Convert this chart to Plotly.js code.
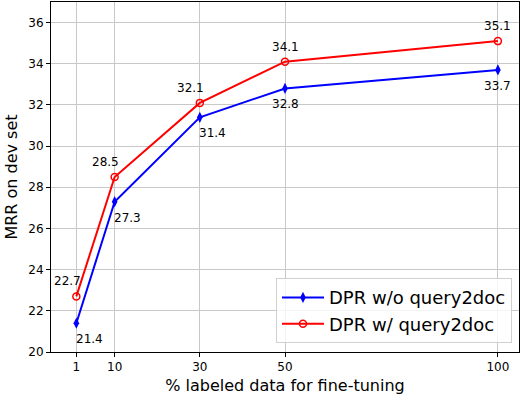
<!DOCTYPE html>
<html>
<head>
<meta charset="utf-8">
<script src="https://cdn.plot.ly/plotly-3.0.1.min.js"></script>
<style>
  html, body { margin: 0; padding: 0; background: #fff; }
  #myDiv { width: 522px; height: 396px; }
</style>
</head>
<body>
<div id="myDiv"></div>
<script>
var pct = [1, 10, 30, 50, 100];
var mrrBase = [21.4, 27.3, 31.4, 32.8, 33.7];
var mrrQ2d = [22.7, 28.5, 32.1, 34.1, 35.1];
var yTicks = [20, 22, 24, 26, 28, 30, 32, 34, 36];

// label nudges (px) so the numbers sit like in the paper figure
var baseShift = [13, 13, 13, 0, 0];
var q2dShift = [-9, -9, -9, 0, 0];

var font = 'DejaVu Sans, sans-serif';

var trace1 = {
    x: pct,
    y: mrrBase,
    name: 'DPR w/o query2doc',
    mode: 'lines+markers',
    type: 'scatter',
    line: {color: '#0000ff', width: 2},
    marker: {symbol: 'diamond-tall', size: 8, color: '#0000ff'}
};

var trace2 = {
    x: pct,
    y: mrrQ2d,
    name: 'DPR w/ query2doc',
    mode: 'lines+markers',
    type: 'scatter',
    line: {color: '#ff0000', width: 2},
    marker: {symbol: 'circle-open', size: 7, color: '#ff0000', line: {width: 1.5}}
};

var annotations = [];
for (let i = 0; i < pct.length; i++) {
    annotations.push({
        x: pct[i], y: mrrQ2d[i], text: mrrQ2d[i].toFixed(1),
        showarrow: false, xshift: q2dShift[i], yshift: 15,
        font: {family: font, size: 12, color: '#000'}
    });
    annotations.push({
        x: pct[i], y: mrrBase[i], text: mrrBase[i].toFixed(1),
        showarrow: false, xshift: baseShift[i], yshift: -16,
        font: {family: font, size: 12, color: '#000'}
    });
}

var layout = {
    width: 522,
    height: 396,
    margin: {l: 51, r: 3, t: 2, b: 44},
    paper_bgcolor: '#fff',
    plot_bgcolor: '#fff',
    font: {family: font, color: '#000', size: 12},
    showlegend: true,
    legend: {
        x: 0.985, y: 0.025, xanchor: 'right', yanchor: 'bottom',
        bgcolor: 'rgba(255,255,255,0.8)',
        bordercolor: '#d0d0d0', borderwidth: 1,
        font: {family: font, size: 18, color: '#000'},
        itemwidth: 42,
        tracegroupgap: 0
    },
    xaxis: {
        range: [-4.95, 104.95],
        tickvals: pct,
        ticktext: pct.map(String),
        ticks: 'outside', ticklen: 4, tickcolor: '#000',
        showgrid: true, gridcolor: '#c8c8c8', gridwidth: 1,
        showline: true, linecolor: '#000', linewidth: 1, mirror: true,
        zeroline: false,
        tickfont: {size: 12},
        title: {text: '% labeled data for fine-tuning', font: {size: 16}, standoff: 6}
    },
    yaxis: {
        range: [20, 37],
        tickvals: yTicks,
        ticks: 'outside', ticklen: 4, tickcolor: '#000',
        showgrid: true, gridcolor: '#c8c8c8', gridwidth: 1,
        showline: true, linecolor: '#000', linewidth: 1, mirror: true,
        zeroline: false,
        tickfont: {size: 12},
        title: {text: 'MRR on dev set', font: {size: 16}, standoff: 6}
    },
    annotations: annotations
};

Plotly.newPlot('myDiv', [trace1, trace2], layout, {displayModeBar: false, staticPlot: true});
</script>
</body>
</html>
